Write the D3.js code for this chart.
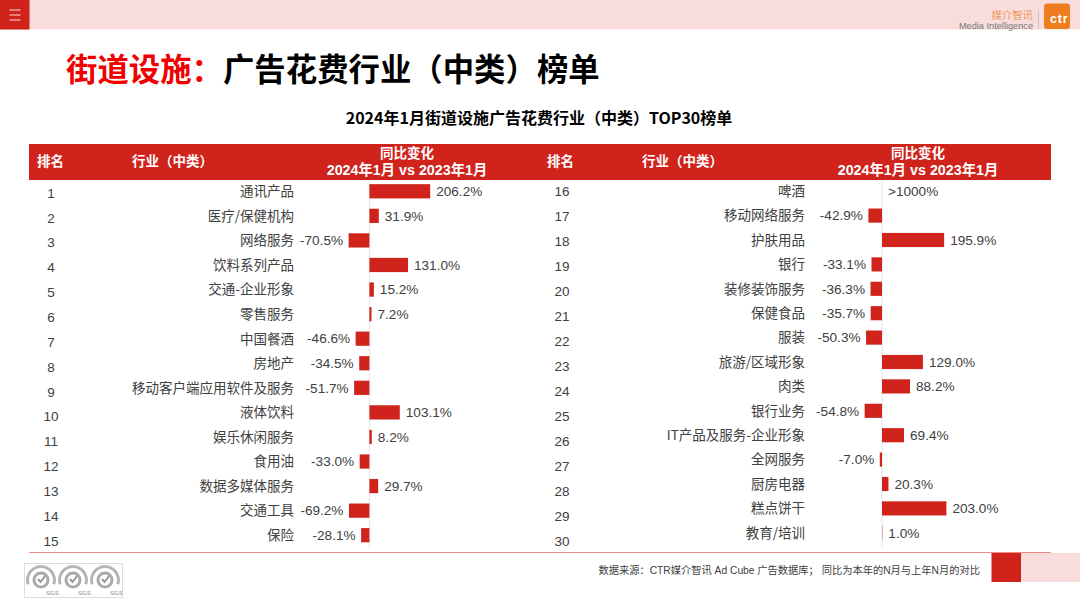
<!DOCTYPE html>
<html>
<head>
<meta charset="utf-8">
<script src="https://cdn.jsdelivr.net/npm/d3@7"></script>
<style>
  html, body { margin: 0; padding: 0; background: #fff; }
  svg { display: block; }
  text { font-family: "Liberation Sans", "Noto Sans CJK SC", sans-serif; }
  .cjk { font-family: "Noto Sans CJK SC", sans-serif; }
</style>
</head>
<body>
<div id="chart"></div>
<script>
const leftCategories = ["通讯产品","医疗/保健机构","网络服务","饮料系列产品","交通-企业形象","零售服务","中国餐酒","房地产","移动客户端应用软件及服务","液体饮料","娱乐休闲服务","食用油","数据多媒体服务","交通工具","保险"]
const leftValues = [206.2,31.9,-70.5,131.0,15.2,7.2,-46.6,-34.5,-51.7,103.1,8.2,-33.0,29.7,-69.2,-28.1]
const leftRanks = [1,2,3,4,5,6,7,8,9,10,11,12,13,14,15]

const rightCategories = ["啤酒","移动网络服务","护肤用品","银行","装修装饰服务","保健食品","服装","旅游/区域形象","肉类","银行业务","IT产品及服务-企业形象","全网服务","厨房电器","糕点饼干","教育/培训"]
const rightValues = [null,-42.9,195.9,-33.1,-36.3,-35.7,-50.3,129.0,88.2,-54.8,69.4,-7.0,20.3,203.0,1.0]
const rightRanks = [16,17,18,19,20,21,22,23,24,25,26,27,28,29,30]
const overflowLabel = ">1000%"

const red = "#d0231c"
const pink = "#f9dcdc"

const svg = d3.select("#chart").append("svg")
  .attr("width", 1080)
  .attr("height", 608)

// top band and menu button
svg.append("rect").attr("width", 1080).attr("height", 29.5).attr("fill", pink)
svg.append("rect").attr("width", 29.5).attr("height", 29.5).attr("fill", red)
;[10, 15, 20].forEach(y => {
  svg.append("rect").attr("x", 9.5).attr("y", y - 0.5).attr("width", 11).attr("height", 1).attr("fill", "#f8dcdc")
})

// logo
svg.append("text").attr("class", "cjk").attr("x", 1033).attr("y", 19).attr("text-anchor", "end")
  .attr("font-size", 10.4).attr("fill", "#ec9a5c").text("媒介智讯")
svg.append("text").attr("x", 1033).attr("y", 28.5).attr("text-anchor", "end")
  .attr("font-size", 9.2).attr("fill", "#777").text("Media Intelligence")
svg.append("rect").attr("x", 1038).attr("y", 11).attr("width", 0.8).attr("height", 18).attr("fill", "#bbb")
svg.append("rect").attr("x", 1044).attr("y", 3.5).attr("width", 26).attr("height", 25.5).attr("rx", 3).attr("fill", "#ee7d1f")
svg.append("text").attr("x", 1050).attr("y", 23).attr("font-size", 12.5).attr("font-weight", "bold")
  .attr("letter-spacing", 0.8).attr("fill", "#fff").text("ctr")

// titles
const title = svg.append("text").attr("class", "cjk").attr("x", 66).attr("y", 81)
  .attr("font-size", 31.4).attr("font-weight", "bold")
title.append("tspan").attr("fill", "#f00000").text("街道设施：")
title.append("tspan").attr("fill", "#000").text("广告花费行业（中类）榜单")

svg.append("text").attr("class", "cjk").attr("x", 539).attr("y", 123.5).attr("text-anchor", "middle")
  .attr("font-size", 16).attr("font-weight", "bold").attr("fill", "#000")
  .text("2024年1月街道设施广告花费行业（中类）TOP30榜单")

// header band
svg.append("rect").attr("x", 29).attr("y", 144).attr("width", 1022).attr("height", 36).attr("fill", red)

function drawHeader(offset, timeCenter) {
  const head = svg.append("g").attr("class", "cjk").attr("fill", "#fff").attr("font-weight", "bold").attr("font-size", 13.5)
  head.append("text").attr("x", 37 + offset).attr("y", 166).text("排名")
  head.append("text").attr("x", 132 + offset).attr("y", 166).text("行业（中类）")
  head.append("text").attr("x", timeCenter).attr("y", 158).attr("text-anchor", "middle").text("同比变化")
  head.append("text").attr("x", timeCenter).attr("y", 175).attr("text-anchor", "middle").attr("font-size", 14.3).text("2024年1月 vs 2023年1月")
}
drawHeader(0, 407)
drawHeader(510, 918)

// one half of the table
function drawColumn(opts) {
  const y = d3.scaleBand().domain(opts.categories).range(opts.rowRange).paddingInner(0.42).paddingOuter(0.21)
  const rankY = d3.scalePoint().domain(opts.ranks).range(opts.rankRange)
  const x = d3.scaleLinear().domain([-100, 250]).range(opts.xRange)
  const g = svg.append("g")

  // rank numbers
  g.selectAll(".rank").data(opts.ranks).enter().append("text")
    .attr("x", opts.rankX)
    .attr("y", d => rankY(d))
    .attr("dy", "0.35em")
    .attr("text-anchor", "middle")
    .attr("font-family", "Open Sans")
    .attr("font-size", 13.5)
    .attr("fill", "#404040")
    .text(d => d)

  // category labels
  const axis = g.append("g")
    .attr("transform", "translate(" + opts.labelX + ",0.5)")
    .call(d3.axisLeft(y).tickSize(0).tickPadding(0))
  axis.select(".domain").remove()
  axis.selectAll("text")
    .attr("class", "cjk")
    .attr("font-size", 13.5)
    .attr("fill", "#404040")

  // zero line
  g.append("line")
    .attr("x1", x(0)).attr("x2", x(0))
    .attr("y1", 180).attr("y2", 548)
    .attr("stroke", "#e4e4e4")

  const rows = opts.categories.map((c, i) => ({ c: c, v: opts.values[i] }))

  g.selectAll(".bar").data(rows.filter(d => d.v !== null)).enter().append("rect")
    .attr("x", d => Math.min(x(0), x(d.v)))
    .attr("y", d => y(d.c))
    .attr("width", d => Math.abs(x(d.v) - x(0)))
    .attr("height", y.bandwidth())
    .attr("fill", red)

  g.selectAll(".val").data(rows).enter().append("text")
    .attr("x", d => d.v === null ? x(0) + 6 : d.v < 0 ? x(d.v) - 5.5 : x(d.v) + 6)
    .attr("y", d => y(d.c) + y.bandwidth() / 2)
    .attr("dy", "0.35em")
    .attr("text-anchor", d => d.v !== null && d.v < 0 ? "end" : "start")
    .attr("font-size", 13.6)
    .attr("fill", "#404040")
    .text(d => d.v === null ? overflowLabel : d.v.toFixed(1) + "%")
}

drawColumn({
  categories: leftCategories, values: leftValues, ranks: leftRanks,
  rowRange: [179, 547.5], rankRange: [193, 541], rankX: 51, labelX: 294,
  xRange: [369.5 - 29.6, 369.5 + 73.6]
})
drawColumn({
  categories: rightCategories, values: rightValues, ranks: rightRanks,
  rowRange: [179, 545], rankRange: [191, 541], rankX: 562, labelX: 805,
  xRange: [882 - 31.7, 882 + 79.3]
})

// bottom rule and footer
svg.append("rect").attr("x", 29).attr("y", 552).attr("width", 1022).attr("height", 1).attr("fill", "#f08a85")
svg.append("rect").attr("x", 991.5).attr("y", 553).attr("width", 29.5).attr("height", 29).attr("fill", red)
svg.append("rect").attr("x", 1021).attr("y", 553).attr("width", 59).attr("height", 29).attr("fill", pink)
svg.append("text").attr("x", 980).attr("y", 573.5).attr("text-anchor", "end")
  .attr("font-size", 10.25).attr("fill", "#404040")
  .text("数据来源：CTR媒介智讯 Ad Cube 广告数据库；  同比为本年的N月与上年N月的对比")

// SGS marks
svg.append("rect").attr("x", 24.5).attr("y", 563.5).attr("width", 98).attr("height", 34).attr("fill", "#fff").attr("stroke", "#ddd")
;[41, 73, 105].forEach(cx => {
  const mark = svg.append("g").attr("transform", "translate(" + cx + ",580)")
  mark.append("path")
    .attr("d", d3.arc()({ innerRadius: 12, outerRadius: 15, startAngle: -Math.PI * 0.6, endAngle: Math.PI * 0.6 }))
    .attr("fill", "#b5b5b5")
  mark.append("circle").attr("r", 8.5).attr("fill", "#ababab")
  mark.append("circle").attr("r", 5.5).attr("fill", "#fff")
  mark.append("path").attr("d", "M-3,-1L-0.5,2L4,-4").attr("fill", "none").attr("stroke", "#999").attr("stroke-width", 2)
  mark.append("text").attr("x", 5).attr("y", 15).attr("font-size", 6).attr("fill", "#8a8a8a").text("SGS")
})
</script>
</body>
</html>
